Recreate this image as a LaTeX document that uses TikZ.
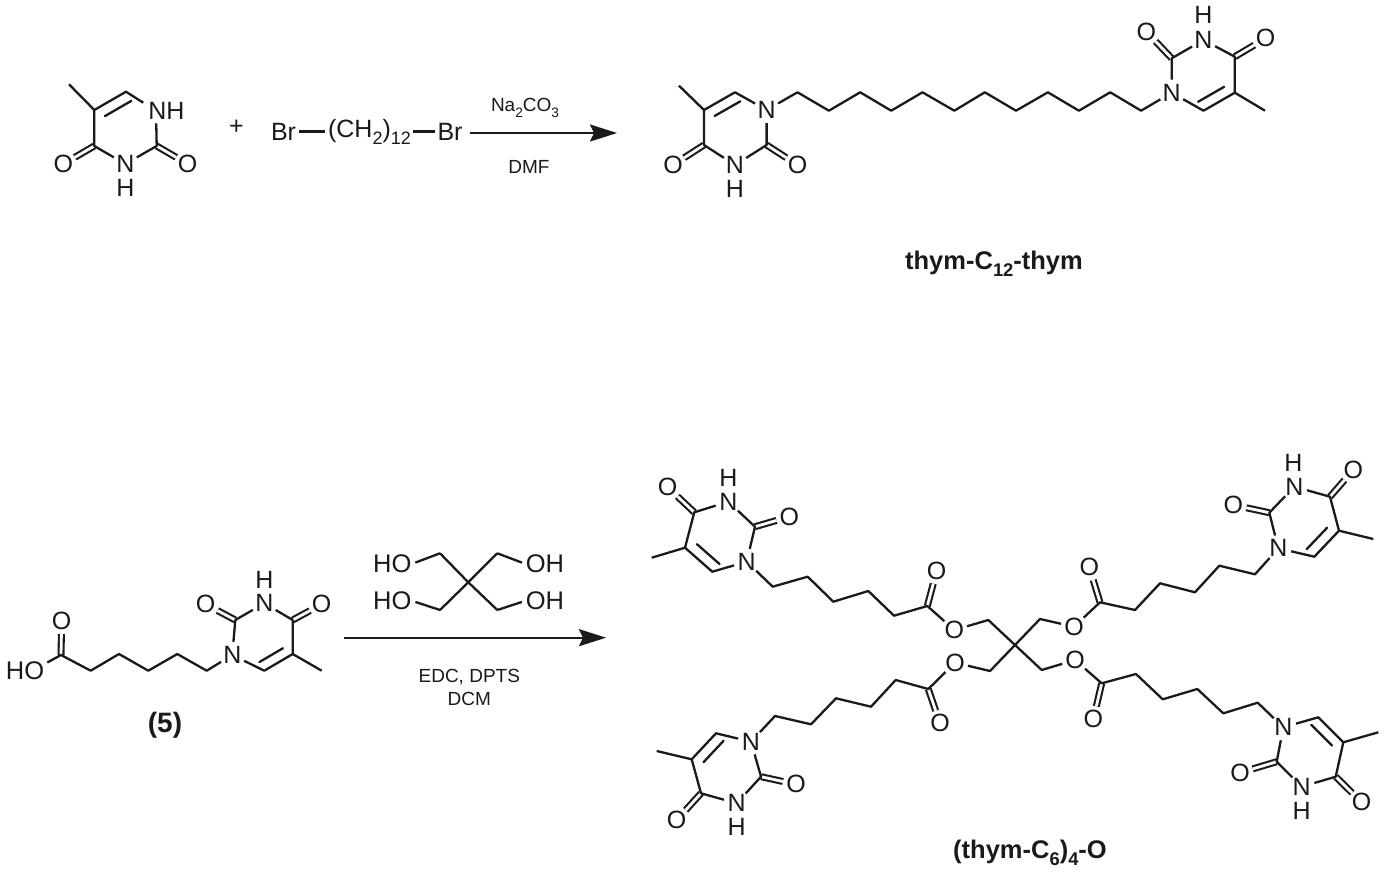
\documentclass[tikz,border=0pt]{standalone}
\usepackage{fontspec}
\setmainfont{Liberation Sans}
\usetikzlibrary{calc,arrows.meta}
\definecolor{ink}{HTML}{1A1A1A}
\newcommand{\subs}[1]{\raisebox{-0.28em}{\scalebox{0.72}{#1}}}
\tikzset{
  bond/.style={draw=ink,line width=2.3pt,line join=round,line cap=butt},
  inner/.style={bond,line cap=round},
  dbl/.style={draw=ink,line width=2.1pt,double=white,double distance=2.8pt},
  atom/.style={circle,inner sep=0pt,minimum size=26pt,text=ink,font=\fontsize{25}{25}\selectfont},
  hatom/.style={inner sep=0pt,text=ink,font=\fontsize{25}{25}\selectfont},
  gtext/.style={inner sep=0pt,text=ink,font=\fontsize{25.5}{25.5}\selectfont},
  formula/.style={inner sep=0pt,text=ink,font=\fontsize{25}{25}\selectfont},
  reagent/.style={inner sep=0pt,text=ink,font=\fontsize{19}{19}\selectfont},
  cmpd/.style={inner sep=0pt,text=ink,font=\fontsize{25.5}{25.5}\selectfont\bfseries},
  cmpdnum/.style={inner sep=0pt,text=ink,font=\fontsize{28}{28}\selectfont\bfseries},
  rxn/.style={draw=ink,line width=2.4pt,-{Stealth[length=27pt,width=17pt,inset=4pt]}}
}
% ring atoms: prefix, N1, C2, N3, H, C4
\newcommand{\thyA}[6]{%
  \node[atom] (#1n1) at (#2) {N};
  \coordinate (#1c2) at (#3);
  \node[atom] (#1n3) at (#4) {N};
  \node[hatom] (#1h) at (#5) {H};
  \coordinate (#1c4) at (#6);
}
% rest: prefix, O4, C5, Me, C6, O2
\newcommand{\thyB}[6]{%
  \node[atom] (#1o4) at (#2) {O};
  \coordinate (#1c5) at (#3);
  \coordinate (#1me) at (#4);
  \coordinate (#1c6) at (#5);
  \node[atom] (#1o2) at (#6) {O};
  \draw[dbl] (#1c4) -- (#1o4);
  \draw[dbl] (#1c2) -- (#1o2);
  \draw[bond] (#1n1) -- (#1c2) -- (#1n3);
  \draw[bond] (#1n3) -- (#1c4) -- (#1c5) -- (#1c6) -- (#1n1);
  \draw[bond] (#1c5) -- (#1me);
  \draw[inner] ($(#1c5)!0.17!(#1c2)$) -- ($(#1c6)!0.17!(#1c2)$);
}
\begin{document}
\begin{tikzpicture}[x=1pt,y=-1pt]
\useasboundingbox (0,0) rectangle (1390,881);
\fill[white] (0,0) rectangle (1390,881);

% --- Thymine (top left)
\node[formula] (nh) at (166.5,110.5) {NH};
\coordinate (tc6) at (126,91.7);
\coordinate (tc5) at (94.3,110);
\coordinate (tme) at (69,84.3);
\coordinate (tc4) at (94.3,146);
\coordinate (tc2) at (156.7,146);
\coordinate (nhA) at ($(nh.north west)+(-5,1)$);
\coordinate (nhB) at ($(nh.south west)+(8,4)$);
\node[atom] (tn3) at (125.3,164) {N};
\node[hatom] (th) at (125.3,187.5) {H};
\node[atom] (to4) at (63.3,164) {O};
\node[atom] (to2) at (187.7,164) {O};
\draw[dbl] (tc4) -- (to4);
\draw[dbl] (tc2) -- (to2);
\draw[bond] (nhB) -- (tc2) -- (tn3);
\draw[bond] (tn3) -- (tc4) -- (tc5) -- (tc6) -- (nhA);
\draw[bond] (tc5) -- (tme);
\draw[inner] ($(tc5)!0.17!(tc2)$) -- ($(tc6)!0.17!(tc2)$);

\node[formula] (plus) at (236.5,127) {+};
\node[formula] (br1) at (283.5,131.5) {Br};
\node[formula] (ch2) at (369.5,131.5) {(CH\subs{2})\subs{12}};
\node[formula] (br2) at (450,131.5) {Br};
\draw[bond,shorten <=3pt,shorten >=3pt] (br1) -- (ch2);
\draw[bond,shorten <=2pt,shorten >=2pt] (ch2) -- (br2);

\coordinate (ar1a) at (470,133);
\coordinate (ar1b) at (617,133);
\draw[rxn] (ar1a) -- (ar1b);
\node[reagent] (na) at (525,108) {Na\subs{2}CO\subs{3}};
\node[reagent] (dmf) at (529,167) {DMF};

% --- thym-C12-thym
\thyA{L}{766.6,110}{766.6,145}{735,165}{735,189}{704,145}
\thyB{L}{673,165}{704,110}{679,85.7}{735,92.3}{797.5,165}
\thyA{R}{1171.7,92.7}{1171.7,58.3}{1203.5,40}{1203.5,15}{1234.8,56.7}
\thyB{R}{1265.7,38.3}{1234.8,92.7}{1265,110.7}{1203.5,110.7}{1146.4,31.7}
\foreach \i/\x/\y in {1/797.5/92.3,2/828.9/110.7,3/860.2/92.3,4/891.2/110.7,5/922.5/92.3,6/954.3/110.7,7/984.8/92.3,8/1016/110.7,9/1047.9/92.3,10/1078.9/110.7,11/1110.2/92.3,12/1141.1/110.7}
  \coordinate (k\i) at (\x,\y);
\draw[bond] (Ln1) -- (k1) -- (k2) -- (k3) -- (k4) -- (k5) -- (k6) -- (k7) -- (k8) -- (k9) -- (k10) -- (k11) -- (k12) -- (Rn1);
\node[cmpd] (lab1) at (994,264) {thym-C\subs{12}-thym};

% --- Compound (5)
\thyA{F}{232.3,655}{235.3,620}{264.3,603.3}{264.3,580}{292.7,620}
\thyB{F}{321.7,604.3}{292.7,654}{321.7,670.7}{264.3,670.7}{205.7,604.3}
\node[gtext] (fho) at (25,670.7) {HO};
\node[atom] (foo) at (61.7,620.7) {O};
\coordinate (fc) at (61,655);
\coordinate (f1) at (90.7,670.7);
\coordinate (f2) at (119,654);
\coordinate (f3) at (148.3,670.7);
\coordinate (f4) at (177.3,654);
\coordinate (f5) at (206.7,670.7);
\coordinate (fhoe) at ($(fho.north east)+(3,1)$);
\draw[dbl] (fc) -- (foo);
\draw[bond] (fhoe) -- (fc) -- (f1) -- (f2) -- (f3) -- (f4) -- (f5) -- (Fn1);
\node[cmpdnum] (lab5) at (165,725) {(5)};

% --- Pentaerythritol reagent
\coordinate (pq) at (468.3,582.3);
\coordinate (pa) at (440,553.3);
\coordinate (pb) at (440,610);
\coordinate (pc) at (497.3,553.3);
\coordinate (pd) at (497.3,610);
\node[gtext] (pha) at (392.3,564) {HO};
\node[gtext] (phb) at (392.3,600.7) {HO};
\node[gtext] (phc) at (545,564) {OH};
\node[gtext] (phd) at (545,600.7) {OH};
\draw[bond] (pq) -- (pa);
\draw[bond] (pq) -- (pb);
\draw[bond] (pq) -- (pc);
\draw[bond] (pq) -- (pd);
\draw[bond,shorten >=4pt] (pa) -- (pha.east);
\draw[bond,shorten >=4pt] (pb) -- (phb.east);
\draw[bond,shorten >=4pt] (pc) -- (phc.west);
\draw[bond,shorten >=4pt] (pd) -- (phd.west);

\coordinate (ar2a) at (344,637.7);
\coordinate (ar2b) at (606,637.7);
\draw[rxn] (ar2a) -- (ar2b);
\node[reagent] (edc) at (469.3,677) {EDC, DPTS};
\node[reagent] (dcm) at (469.3,698.5) {DCM};

% --- (thym-C6)4-O
\coordinate (q) at (1015,645);
% upper left arm
\thyA{A}{746.7,561.7}{755,526.7}{728.3,501.7}{728.3,478}{694.3,512.3}
\thyB{A}{667.7,487.3}{685,547.7}{651.7,557.7}{712.3,571.7}{789.3,516.7}
\coordinate (a1) at (772.7,586.7);
\coordinate (a2) at (807.7,576.7);
\coordinate (a3) at (833.3,601.7);
\coordinate (a4) at (868.3,591);
\coordinate (a5) at (894,615.7);
\coordinate (ac) at (927.3,606);
\node[atom] (aoo) at (936.7,570.7) {O};
\node[atom] (ao) at (954.3,630) {O};
\coordinate (am) at (988.3,620);
\draw[dbl] (ac) -- (aoo);
\draw[bond] (An1) -- (a1) -- (a2) -- (a3) -- (a4) -- (a5) -- (ac) -- (ao) -- (am) -- (q);
% upper right arm
\thyA{B}{1278.3,548.3}{1269.3,512.7}{1294.3,486.7}{1293.3,463}{1330,496.7}
\thyB{B}{1353.3,470}{1339,530.7}{1373.3,539}{1314.3,556.7}{1233.3,505}
\coordinate (b1) at (1255,574.3);
\coordinate (b2) at (1219.3,565.7);
\coordinate (b3) at (1195,592.3);
\coordinate (b4) at (1160,583.3);
\coordinate (b5) at (1135,610);
\coordinate (bc) at (1100,602.3);
\node[atom] (boo) at (1089.3,567.3) {O};
\node[atom] (bo) at (1074,626.7) {O};
\coordinate (bm) at (1040,619);
\draw[dbl] (bc) -- (boo);
\draw[bond] (Bn1) -- (b1) -- (b2) -- (b3) -- (b4) -- (b5) -- (bc) -- (bo) -- (bm) -- (q);
% lower left arm
\thyA{C}{751,741.7}{761,776.7}{736.7,803.3}{736.7,827}{701,793.3}
\thyB{C}{676.7,820}{691.7,759.3}{656.7,751}{716,733.3}{796,784.3}
\coordinate (c1) at (775,716);
\coordinate (c2) at (811,724.3);
\coordinate (c3) at (836,698.3);
\coordinate (c4) at (871,706.7);
\coordinate (c5) at (895.7,680);
\coordinate (cc) at (928.3,689);
\node[atom] (coo) at (940,723.3) {O};
\node[atom] (co) at (955,662.7) {O};
\coordinate (cm) at (990,671);
\draw[dbl] (cc) -- (coo);
\draw[bond] (Cn1) -- (c1) -- (c2) -- (c3) -- (c4) -- (c5) -- (cc) -- (co) -- (cm) -- (q);
% lower right arm
\thyA{D}{1283.3,727.3}{1276.7,761.7}{1301.7,786.7}{1301.7,810.5}{1335.7,776.7}
\thyB{D}{1361.7,802.3}{1343.3,742.3}{1378.3,732.3}{1318.3,717.3}{1240,772.7}
\coordinate (d1) at (1257.7,702.7);
\coordinate (d2) at (1223.3,713.3);
\coordinate (d3) at (1197.3,689);
\coordinate (d4) at (1162.7,699.3);
\coordinate (d5) at (1136,674);
\coordinate (dc) at (1101.7,683.3);
\node[atom] (doo) at (1093.3,719.3) {O};
\node[atom] (do) at (1075,660) {O};
\coordinate (dm) at (1041.7,670);
\draw[dbl] (dc) -- (doo);
\draw[bond] (Dn1) -- (d1) -- (d2) -- (d3) -- (d4) -- (d5) -- (dc) -- (do) -- (dm) -- (q);
\node[cmpd] (lab2) at (1030,853) {(thym-C\subs{6})\subs{4}-O};
\end{tikzpicture}
\end{document}
